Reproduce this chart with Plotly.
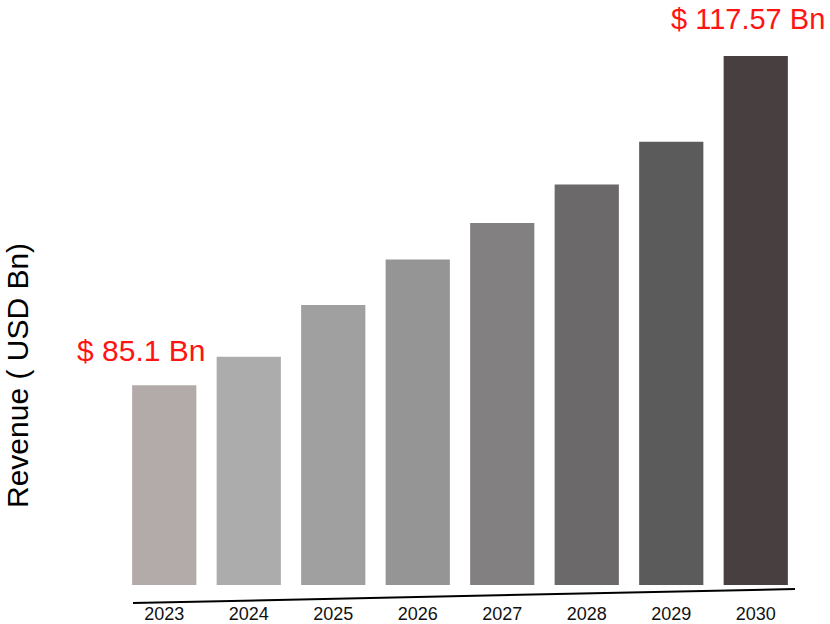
import plotly.graph_objects as go

years = ["2023", "2024", "2025", "2026", "2027", "2028", "2029", "2030"]
revenue = [85.1, 87.9, 93.0, 97.5, 101.1, 104.9, 109.1, 117.57]
bar_colors = ["#b3aba9", "#adacad", "#a0a0a0", "#959595",
              "#828081", "#6b6969", "#5b5b5b", "#483f40"]
first_label = "$ 85.1 Bn"
last_label = "$ 117.57 Bn"
y_title = "Revenue ( USD Bn)"

W, H = 830, 624
L, R, T, B = 122, 32, 56, 39
y_min = 65.39

fig = go.Figure(go.Bar(
    x=years, y=revenue, marker=dict(color=bar_colors, line=dict(width=0)),
))

pw, ph = W - L - R, H - T - B
def px_x(x): return (x - L) / pw
def px_y(y): return (H - B - y) / ph

fig.update_layout(
    width=W, height=H,
    margin=dict(l=L, r=R, t=T, b=B, autoexpand=False),
    paper_bgcolor="white", plot_bgcolor="white",
    bargap=0.24, showlegend=False,
    font=dict(family="Arial, Liberation Sans, sans-serif", color="black"),
    xaxis=dict(type="category", range=[-0.5, len(years) - 0.5],
               showgrid=False, showline=False, zeroline=False,
               ticks="outside", ticklen=12, tickcolor="rgba(0,0,0,0)",
               tickfont=dict(size=18, color="#111")),
    yaxis=dict(range=[y_min, max(revenue)], showticklabels=False, ticks="",
               showgrid=False, zeroline=False, showline=False),
    shapes=[dict(type="line", xref="paper", yref="paper",
                 x0=px_x(133), y0=px_y(603), x1=px_x(795), y1=px_y(589),
                 line=dict(color="black", width=2))],
    annotations=[
        dict(x=0, y=revenue[0], xref="x", yref="y", text=first_label,
             showarrow=False, yanchor="bottom", xshift=-23, yshift=16,
             font=dict(size=30, color="#ff1414")),
        dict(x=len(years) - 1, y=revenue[-1], xref="x", yref="y", text=last_label,
             showarrow=False, yanchor="bottom", xshift=-8, yshift=19,
             font=dict(size=29, color="#ff1414")),
        dict(x=px_x(17), y=px_y(376), xref="paper", yref="paper", text=y_title,
             showarrow=False, textangle=-90, xanchor="center", yanchor="middle",
             font=dict(size=30, color="black")),
    ],
)

fig.write_html("out.html", config={"displayModeBar": False},
               post_script="document.body.style.margin='0';document.body.style.padding='0';document.body.style.overflow='hidden';")
